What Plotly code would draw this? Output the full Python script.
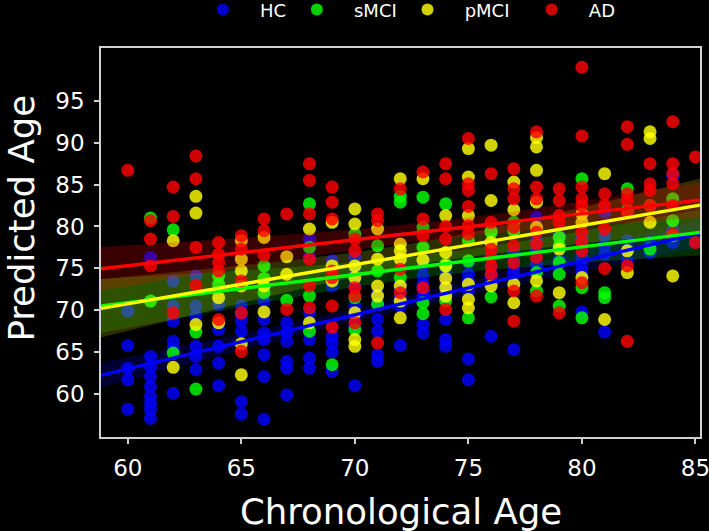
import numpy as np
import plotly.graph_objects as go

# ---------------- data ----------------
hc_age = ([60]*5 + [61]*9 + [62]*6 + [63]*6 + [64]*5 + [65]*6 + [66]*7 + [67]*6 + [68]*6 + [69]*6 +
          [70]*7 + [71]*6 + [72]*6 + [73]*7 + [74]*7 + [75]*6 + [76]*5 + [77]*5 + [78]*5 + [79]*3 +
          [80]*6 + [81]*5 + [82]*3 + [83]*2 + [84]*3 + [85]*1)
hc_pred = [69.9, 65.8, 63.1, 61.7, 58.2,
           76.3, 64.5, 63.3, 62.1, 60.9, 59.7, 58.9, 58.1, 57.1,
           73.5, 70.5, 68.7, 66.3, 65.5, 60.1,
           74.1, 70.5, 69.3, 65.7, 64.5, 62.9,
           70.7, 67.7, 65.7, 63.7, 61.0,
           70.5, 69.5, 68.7, 67.5, 59.1, 57.6,
           71.1, 68.9, 67.3, 66.5, 64.7, 62.1, 57.0,
           68.5, 67.3, 66.3, 63.9, 63.1, 59.9,
           78.5, 76.4, 69.7, 66.5, 64.3, 63.1,
           75.9, 72.9, 66.9, 66.1, 65.0, 62.7,
           76.3, 74.5, 72.9, 70.5, 69.3, 68.1, 61.0,
           72.1, 70.9, 68.9, 67.5, 64.7, 63.9,
           74.9, 73.1, 72.3, 71.5, 70.5, 65.8,
           75.3, 74.1, 73.1, 72.3, 71.7, 68.3, 67.3,
           74.5, 73.1, 72.1, 71.3, 68.9, 66.5, 65.7,
           75.7, 74.3, 73.5, 72.3, 64.2, 61.7,
           76.5, 75.1, 74.1, 73.7, 66.9,
           76.9, 76.1, 75.1, 74.3, 65.3,
           81.1, 78.3, 77.1, 76.5, 75.5,
           78.9, 77.5, 76.1,
           78.5, 77.7, 76.3, 75.3, 74.5, 69.8,
           81.7, 78.9, 77.7, 76.7, 67.4,
           78.3, 77.1, 75.9,
           78.1, 76.9,
           86.0, 79.5, 78.1,
           78.1]

smci_age = ([61]*2 + [62]*2 + [63]*2 + [64]*2 + [66]*3 + [67]*1 + [68]*4 + [69]*1 + [70]*3 + [71]*3 +
            [72]*3 + [73]*5 + [74]*4 + [75]*3 + [76]*3 + [77]*2 + [78]*2 + [79]*5 + [80]*3 + [81]*2 +
            [82]*2 + [83]*2 + [84]*3)
smci_pred = [81.0, 71.1,
             79.6, 64.9,
             67.4, 60.6,
             74.1, 73.1,
             75.3, 73.8, 72.1,
             71.2,
             82.7, 77.5, 71.7, 67.5,
             63.5,
             79.1, 71.5, 67.7,
             77.7, 74.7, 70.7,
             83.6, 82.9, 73.9,
             83.5, 79.9, 77.5, 70.9, 69.6,
             82.7, 75.5, 75.3, 71.1,
             78.3, 75.9, 69.1,
             79.5, 79.3, 71.6,
             80.5, 79.5,
             74.5, 72.3,
             78.7, 77.7, 75.7, 74.3, 70.5,
             85.7, 72.7, 69.1,
             72.1, 71.5,
             84.5, 81.9,
             77.3, 82.5,
             80.7, 78.9, 83.3]

pmci_age = ([62]*2 + [63]*3 + [64]*2 + [65]*6 + [66]*3 + [67]*2 + [68]*2 + [69]*3 + [70]*7 + [71]*4 +
            [72]*7 + [73]*2 + [74]*6 + [75]*6 + [76]*4 + [77]*4 + [78]*6 + [79]*2 + [80]*3 + [81]*2 +
            [82]*2 + [83]*3 + [84]*1)
pmci_pred = [78.3, 63.2,
             83.6, 81.6, 68.3,
             71.5, 68.5,
             78.3, 76.1, 74.7, 72.9, 66.0, 62.3,
             78.7, 72.9, 69.8,
             76.4, 74.3,
             79.7, 68.5,
             80.5, 75.3, 73.5,
             82.1, 80.3, 75.3, 73.9, 69.7, 66.5, 65.7,
             79.7, 76.1, 72.9, 71.7,
             85.7, 77.9, 77.1, 76.1, 72.9, 71.1, 69.1,
             85.7, 76.0,
             81.3, 76.9, 75.3, 73.8, 72.7, 71.7,
             89.3, 85.9, 81.3, 73.1, 71.3, 70.3,
             89.7, 83.1, 78.1, 72.9,
             85.3, 82.0, 73.1, 70.9,
             90.6, 89.5, 86.7, 82.9, 79.9, 73.5,
             77.3, 72.1,
             81.5, 80.5, 73.9,
             86.3, 68.9,
             77.1, 74.5,
             91.3, 90.5, 80.5,
             74.1]

ad_age = ([60]*1 + [61]*3 + [62]*3 + [63]*4 + [64]*5 + [65]*5 + [66]*3 + [67]*2 + [68]*6 + [69]*7 +
          [70]*5 + [71]*3 + [72]*3 + [73]*4 + [74]*5 + [75]*6 + [76]*6 + [77]*8 + [78]*7 + [79]*5 +
          [80]*9 + [81]*4 + [82]*7 + [83]*4 + [84]*6 + [85]*2)
ad_pred = [86.7,
           80.7, 78.5, 75.3,
           84.7, 81.2, 69.7,
           88.4, 85.7, 77.5, 73.0,
           78.1, 76.7, 75.7, 74.7, 68.9,
           78.9, 77.3, 73.5, 69.7, 65.1,
           80.9, 79.5, 76.6,
           81.5, 70.1,
           87.5, 85.5, 81.5, 76.1, 72.9, 70.3,
           84.7, 82.9, 80.9, 74.7, 73.9, 70.5, 68.0,
           78.5, 77.1, 72.7, 71.7, 68.5,
           81.5, 80.7, 66.1,
           84.5, 74.9, 72.1,
           86.5, 80.9, 78.9, 72.7,
           87.5, 85.7, 80.0, 78.5, 70.1,
           90.5, 85.1, 84.3, 82.4, 80.1, 79.1,
           86.3, 80.5, 77.3, 76.3, 75.3, 74.3,
           86.9, 84.5, 83.3, 79.9, 77.7, 75.7, 72.3, 68.7,
           91.3, 84.7, 83.3, 79.3, 77.9, 76.3, 71.7,
           84.5, 83.1, 81.3, 80.5, 69.7,
           99.0, 90.8, 84.7, 83.3, 82.5, 79.3, 78.1, 77.1, 73.3,
           83.9, 82.5, 79.7, 75.0,
           91.9, 89.8, 83.9, 83.1, 81.7, 75.3, 66.3,
           87.5, 85.1, 84.3, 82.5,
           92.5, 87.5, 86.3, 85.1, 82.5, 79.1,
           88.3, 78.1]

groups = ["HC", "sMCI", "pMCI", "AD"]
colors = ["#0000ff", "#00ff00", "#ffff00", "#ff0000"]
band_colors = ["rgba(0,0,255,0.2)", "rgba(0,255,0,0.18)", "rgba(255,255,0,0.18)", "rgba(255,0,0,0.22)"]
series = [(hc_age, hc_pred), (smci_age, smci_pred), (pmci_age, pmci_pred), (ad_age, ad_pred)]

x_ticks = [60, 65, 70, 75, 80, 85]
y_ticks = [60, 65, 70, 75, 80, 85, 90, 95]
x_range = [58.82, 85.2]
y_range = [54.88, 101.3]

FONT = "DejaVu Sans"
NB = "\u00a0"
legend_pre = {"HC": 3, "sMCI": 3, "pMCI": 3, "AD": 3}
legend_post = {"HC": 1, "sMCI": 1, "pMCI": 3, "AD": 0}

fig = go.Figure()
lines = []
xs = np.linspace(x_range[0], x_range[1], 120)
for name, col, bcol, (ax_, ay_) in zip(groups, colors, band_colors, series):
    x = np.asarray(ax_, float)
    y = np.asarray(ay_, float)
    label = NB * legend_pre[name] + name + NB * legend_post[name]
    fig.add_trace(go.Scatter(x=x, y=y, mode="markers", name=label,
                             marker=dict(color=col, size=13, opacity=0.82, line=dict(width=0))))
    b, a = np.polyfit(x, y, 1)
    fit = a + b * xs
    n = len(x)
    resid = y - (a + b * x)
    s = np.sqrt(np.sum(resid ** 2) / (n - 2))
    sxx = np.sum((x - x.mean()) ** 2)
    se = s * np.sqrt(1.0 / n + (xs - x.mean()) ** 2 / sxx)
    hi = fit + 1.98 * se
    lo = fit - 1.98 * se
    fig.add_trace(go.Scatter(x=np.concatenate([xs, xs[::-1]]), y=np.concatenate([hi, lo[::-1]]),
                             fill="toself", fillcolor=bcol, line=dict(width=0), mode="lines",
                             hoverinfo="skip", showlegend=False))
    lines.append((xs, fit, col))

for lx, ly, col in lines:
    fig.add_trace(go.Scatter(x=lx, y=ly, mode="lines", line=dict(color=col, width=3.4),
                             showlegend=False, hoverinfo="skip"))

axis_common = dict(showgrid=False, zeroline=False, showline=True, linecolor="#d0d0d0", linewidth=1.5,
                   mirror=True, ticks="outside", ticklen=5, tickwidth=1.5, tickcolor="#d0d0d0",
                   ticklabeloverflow="allow",
                   tickfont=dict(family=FONT, size=23, color="white"))

fig.update_layout(
    width=709, height=531,
    paper_bgcolor="black", plot_bgcolor="black",
    margin=dict(l=101, r=9, t=48, b=94, autoexpand=False),
    font=dict(family=FONT, color="white"),
    xaxis=dict(range=x_range, tickvals=x_ticks, ticklabelstandoff=5, **axis_common),
    yaxis=dict(range=y_range, tickvals=y_ticks, ticklabelstandoff=5, **axis_common),
    showlegend=True,
    legend=dict(orientation="h", x=0.17, xanchor="left", y=1.098, yanchor="middle",
                bgcolor="rgba(0,0,0,0)", font=dict(family=FONT, size=18, color="white"),
                itemsizing="constant"),
    annotations=[
        dict(text="Chronological Age", xref="paper", yref="paper", x=0.5, y=0, yshift=-74,
             xanchor="center", yanchor="middle", showarrow=False,
             font=dict(family=FONT, size=35.5, color="white")),
        dict(text="Predicted Age", xref="paper", yref="paper", x=0, y=0.5, xshift=-80, yshift=24,
             xanchor="center", yanchor="middle", textangle=-90, showarrow=False,
             font=dict(family=FONT, size=35.5, color="white")),
    ],
)

fig.write_html("out.html", config={"displayModeBar": False},
               post_script="document.body.style.margin='0';document.body.style.background='black';")
